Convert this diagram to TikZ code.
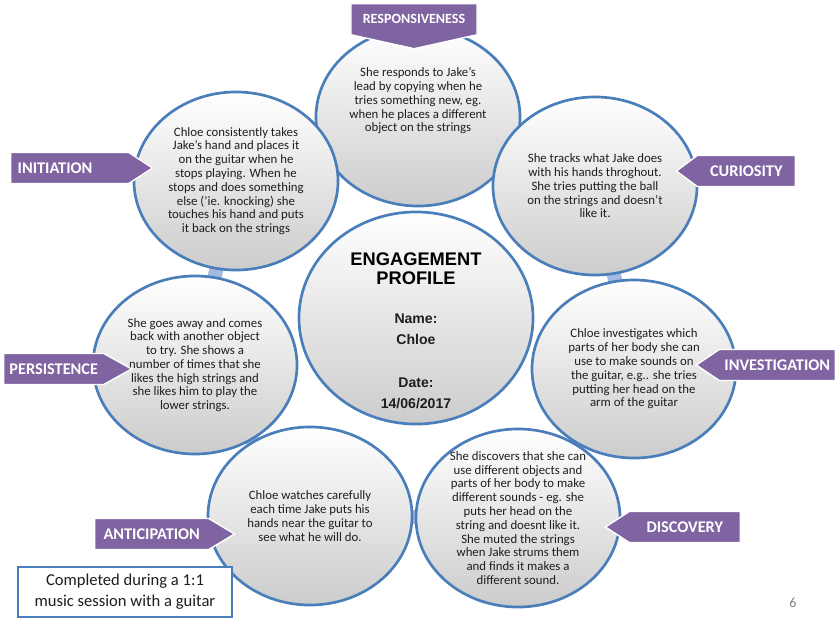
\documentclass[tikz,border=0pt]{standalone}
\usepackage{fontspec}
\setmainfont{Carlito}
\newfontfamily\arialfont{Liberation Sans}
\usetikzlibrary{shapes.geometric,shapes.symbols,backgrounds}

\definecolor{tagpurple}{HTML}{8064A2}
\definecolor{rimblue}{HTML}{4A7EBB}
\definecolor{bandblue}{HTML}{A3B9E2}
\definecolor{bodytext}{HTML}{1E1E1E}

\begin{document}
\begin{tikzpicture}[
    x=0.025cm, y=-0.025cm,
    bubble/.style={ellipse, draw=rimblue, line width=1.9pt, top color=white, middle color=black!4, bottom color=black!20, minimum width=5.1cm, minimum height=4.45cm, inner sep=0pt},
    hub/.style={bubble, minimum width=5.85cm, minimum height=5.3cm},
    blurb/.style={align=center, text=bodytext, font=\fontsize{9.1}{9.8}\selectfont},
    headline/.style={align=center, font=\arialfont\bfseries\fontsize{13}{13.7}\selectfont},
    detail/.style={align=center, text=bodytext, font=\arialfont\bfseries\fontsize{10}{15}\selectfont},
    tag/.style={signal, fill=tagpurple, draw=white, line width=1pt, text=white, font=\fontsize{11.6}{13}\selectfont\bfseries, minimum height=0.775cm, inner sep=0pt, align=center},
    band/.style={line width=0.35cm, draw=bandblue, line join=round},
    note/.style={draw=rimblue, line width=1.4pt, fill=white, align=center, font=\fontsize{11.8}{15}\selectfont, text=bodytext, minimum width=5.35cm, minimum height=1.25cm}
]
\useasboundingbox (0,0) rectangle (840,624);

% outer ring of bubbles
\node[bubble, label={[blurb, yshift=0.4cm]center:{She responds to Jake's\\lead by copying when he\\tries something new, eg.\\when he places a different\\object on the strings}}] (resp) at (418,117) {};
\node[bubble, label={[blurb]center:{She tracks what Jake does\\with his hands throghout.\\She tries putting the ball\\on the strings and doesn't\\like it.}}] (curio) at (595,186) {};
\node[bubble, label={[blurb]center:{Chloe investigates which\\parts of her body she can\\use to make sounds on\\the guitar, e.g.. she tries\\putting her head on the\\arm of the guitar}}] (invest) at (634,369) {};
\node[bubble, label={[blurb]center:{She discovers that she can\\use different objects and\\parts of her body to make\\different sounds - eg. she\\puts her head on the\\string and doesnt like it.\\She muted the strings\\when Jake strums them\\and finds it makes a\\different sound.}}] (disc) at (518,518) {};
\node[bubble, label={[blurb]center:{Chloe watches carefully\\each time Jake puts his\\hands near the guitar to\\see what he will do.}}] (antic) at (310,516) {};
\node[bubble, label={[blurb]center:{She goes away and comes\\back with another object\\to try. She shows a\\number of times that she\\likes the high strings and\\she likes him to play the\\lower strings.}}] (persist) at (195,365) {};
\node[bubble, label={[blurb]center:{Chloe consistently takes\\Jake's hand and places it\\on the guitar when he\\stops playing. When he\\stops and does something\\else ('ie. knocking) she\\touches his hand and puts\\it back on the strings}}] (init) at (236,181) {};

% centre
\node[hub, label={[headline, yshift=1.24cm]center:{ENGAGEMENT\\PROFILE}}, label={[detail, yshift=-1.08cm]center:{Name:\\Chloe\\[15pt]Date:\\14/06/2017}}] (profile) at (416,318) {};

\begin{pgfonlayer}{background}
\draw[band] (resp.center) -- (curio.center) -- (invest.center) -- (disc.center) -- (antic.center) -- (persist.center) -- (init.center) -- cycle;
\end{pgfonlayer}

% tags
\node[tag, signal to=south, signal pointer angle=155, text width=3.15cm, minimum height=1.125cm, font=\fontsize{10}{12}\selectfont\bfseries, anchor=north] (respTag) at (414,3) {RESPONSIVENESS};
\node[tag, signal to=east, signal pointer angle=66, text width=2.6cm, inner xsep=0.175cm, align=left, anchor=west] (initTag) at (10,168) {INITIATION};
\node[tag, signal to=west, signal pointer angle=73, text width=2.45cm, anchor=east] (curioTag) at (796,171) {CURIOSITY};
\node[tag, signal to=east, signal pointer angle=58, text width=2.5cm, anchor=west] (persistTag) at (3,369) {PERSISTENCE};
\node[tag, signal to=west, signal pointer angle=68, text width=2.9cm, anchor=east] (investTag) at (836,365) {INVESTIGATION};
\node[tag, signal to=east, signal pointer angle=62, text width=2.85cm, anchor=west] (anticTag) at (94,534) {ANTICIPATION};
\node[tag, signal to=west, signal pointer angle=66, text width=2.775cm, anchor=east] (discTag) at (741,527) {DISCOVERY};

\node[note] (session) at (125,592) {Completed during a 1:1\\music session with a guitar};
\node[text=gray, font=\fontsize{10}{12}\selectfont] (pageNo) at (793,603) {6};
\end{tikzpicture}
\end{document}
